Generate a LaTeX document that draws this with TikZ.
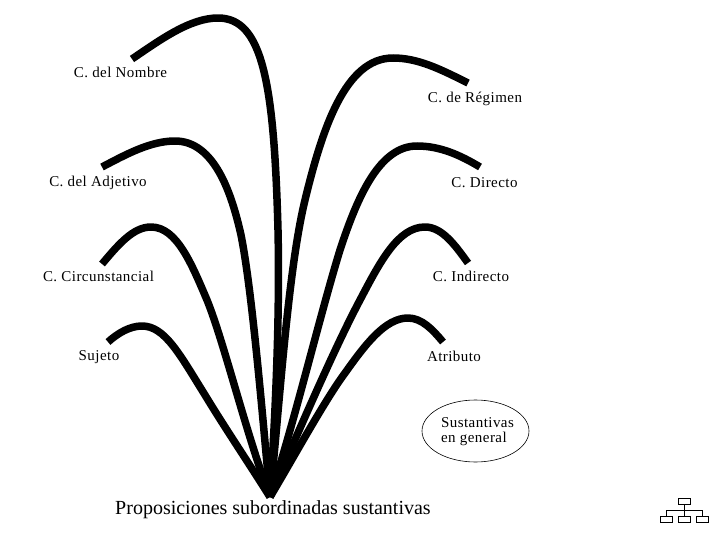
\documentclass[tikz,border=0pt]{standalone}
\usepackage{fontspec}
\setmainfont{Liberation Serif}
\newfontfamily\rotulo[LetterSpace=3]{Liberation Serif}
\usetikzlibrary{positioning,shapes.geometric}
\tikzset{
  rama/.style={line width=7.5pt, line cap=butt, line join=round},
  etiqueta/.style={font=\rotulo\fontsize{15}{15}\selectfont, inner sep=0pt},
  caja/.style={draw, line width=1pt, minimum width=12pt, minimum height=6pt, inner sep=0pt}
}
\begin{document}
\begin{tikzpicture}[x=1pt,y=-1pt]
\useasboundingbox (0,0) rectangle (720,540);
\fill[white] (0,0) rectangle (720,540);

\coordinate (raiz) at (270,497);

\node[etiqueta] (nombre) at (120.5,72.5) {C. del Nombre};
\node[etiqueta] (regimen) at (475,98.5) {C. de Régimen};
\node[etiqueta] (adjetivo) at (98,182.5) {C. del Adjetivo};
\node[etiqueta] (directo) at (484.5,182.5) {C. Directo};
\node[etiqueta] (circ) at (98.5,276.5) {C. Circunstancial};
\node[etiqueta] (indirecto) at (471,276.5) {C. Indirecto};
\node[etiqueta] (sujeto) at (99,357) {Sujeto};
\node[etiqueta] (atributo) at (454,356.5) {Atributo};

\coordinate (finnombre) at (132,59);
\coordinate (finregimen) at (468,83);
\coordinate (finadjetivo) at (102,167);
\coordinate (findirecto) at (480,167);
\coordinate (fincirc) at (102,264);
\coordinate (finindirecto) at (468,263);
\coordinate (finsujeto) at (108,342);
\coordinate (finatributo) at (443,342);

% ramas de izquierda a derecha
\draw[rama] (finnombre) .. controls (160,40) and (190,18) .. (218,18)
  .. controls (262,18) and (274,80) .. (278,230)
  .. controls (280,320) and (275,420) .. (raiz);
\draw[rama] (finregimen) .. controls (440,69) and (418,58) .. (393,58)
  .. controls (345,58) and (322,130) .. (305,200)
  .. controls (288,270) and (280,400) .. (raiz);
\draw[rama] (finadjetivo) .. controls (125,155) and (150,141) .. (175,141)
  .. controls (215,141) and (232,195) .. (241,235)
  .. controls (252,290) and (262,410) .. (raiz);
\draw[rama] (findirecto) .. controls (460,155) and (440,146) .. (417,146)
  .. controls (380,146) and (358,195) .. (340,250)
  .. controls (320,315) and (295,420) .. (raiz);
\draw[rama] (fincirc) .. controls (118,245) and (133,227) .. (151,227)
  .. controls (177,227) and (192,265) .. (207,300)
  .. controls (224,342) and (245,430) .. (raiz);
\draw[rama] (finindirecto) .. controls (455,245) and (442,227) .. (425,227)
  .. controls (398,227) and (380,262) .. (360,300)
  .. controls (334,349) and (297,435) .. (raiz);
\draw[rama] (finsujeto) .. controls (118,333) and (130,326) .. (142,326)
  .. controls (165,326) and (180,355) .. (205,395)
  .. controls (225,428) and (250,465) .. (raiz);
\draw[rama] (finatributo) .. controls (433,330) and (422,318) .. (408,318)
  .. controls (385,318) and (365,345) .. (345,373)
  .. controls (325,400) and (295,455) .. (raiz);

\node[draw, ellipse, line width=0.6pt, minimum width=107pt, minimum height=62pt, inner sep=0pt] (general) at (475.5,431) {};
\node[etiqueta, align=left] (generaltxt) at (477.5,431.5) {Sustantivas\\en general};

\node[etiqueta, font=\fontsize{20}{20}\selectfont] (titulo) at (273,509.5) {Proposiciones subordinadas sustantivas};

\node[caja] (jefe) at (684.5,501) {};
\node[caja] (hijoa) at (666.5,519) {};
\node[caja] (hijob) at (684.5,519) {};
\node[caja] (hijoc) at (702.5,519) {};
\coordinate (cruce) at (684.5,510.5);
\draw[line width=1pt] (jefe) -- (hijob);
\draw[line width=1pt] (hijoa) |- (cruce) -| (hijoc);
\end{tikzpicture}
\end{document}
